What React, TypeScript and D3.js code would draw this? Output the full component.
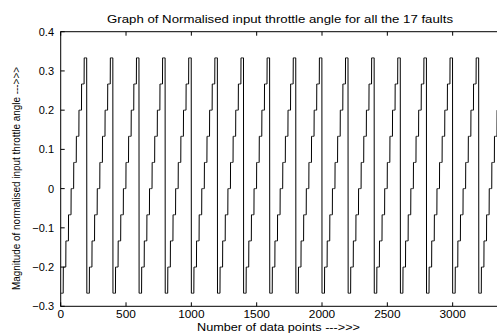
import React from "react";
import * as d3 from "d3";

// Normalised throttle-angle levels of each fault ramp
const throttleLevels = [-0.2667, -0.2, -0.1333, -0.0667, 0, 0.0667, 0.1333, 0.2, 0.2667, 0.3333];
// Number of data points spent on each level within one fault
const samplesPerLevel = [20, 20, 20, 20, 20, 20, 20, 20, 20, 20];
// The 17 faults
const faults = ["F1","F2","F3","F4","F5","F6","F7","F8","F9","F10","F11","F12","F13","F14","F15","F16","F17"];
const xTicks = [0, 500, 1000, 1500, 2000, 2500, 3000];
const yTicks = [-0.3, -0.2, -0.1, 0, 0.1, 0.2, 0.3, 0.4];
const xDomain = [0, 3350];
const yDomain = [-0.3, 0.4];

const W = 497, H = 336;
const m = { left: 60.7, top: 31.7, right: 498.4, bottom: 306.3 };

export default function App() {
  const x = d3.scaleLinear().domain(xDomain).range([m.left, m.right]);
  const y = d3.scaleLinear().domain(yDomain).range([m.bottom, m.top]);

  // build the series: each fault walks through the levels
  const data: [number, number][] = [];
  let idx = 0;
  faults.forEach(() => {
    throttleLevels.forEach((lv, li) => {
      for (let k = 0; k < samplesPerLevel[li]; k++) {
        data.push([idx, lv]);
        idx++;
      }
    });
  });

  const line = d3.line<[number, number]>().x(d => x(d[0])).y(d => y(d[1]));
  const font = "'Liberation Sans', Arial, sans-serif";
  const fmtY = (v: number) => (Math.abs(v) < 1e-9 ? "0" : d3.format(".1f")(v));

  return (
    <svg width={W} height={H} style={{ position: "absolute", left: 0, top: 0, background: "#fff" }}
      fontFamily={font}>
      <defs>
        <clipPath id="plotclip">
          <rect x={m.left} y={m.top} width={m.right - m.left} height={m.bottom - m.top} />
        </clipPath>
      </defs>
      <rect x={0} y={0} width={W} height={H} fill="#fff" />
      <path d={line(data) || ""} fill="none" stroke="#000" strokeWidth={1} clipPath="url(#plotclip)" />
      <rect x={m.left} y={m.top} width={m.right - m.left} height={m.bottom - m.top}
        fill="none" stroke="#000" strokeWidth={1} />
      {xTicks.map(t => (
        <g key={"x" + t}>
          <line x1={x(t)} x2={x(t)} y1={m.bottom} y2={m.bottom - 4} stroke="#000" />
          <line x1={x(t)} x2={x(t)} y1={m.top} y2={m.top + 4} stroke="#000" />
          <text x={x(t)} y={318} fontSize={11} textAnchor="middle"
            textLength={String(t).length * 6.6} lengthAdjust="spacingAndGlyphs">{t}</text>
        </g>
      ))}
      {yTicks.map(t => (
        <g key={"y" + t}>
          <line x1={m.left} x2={m.left + 4} y1={y(t)} y2={y(t)} stroke="#000" />
          <text x={54} y={y(t) + 4} fontSize={11} textAnchor="end">{fmtY(t)}</text>
        </g>
      ))}
      <text x={280} y={23} fontSize={11} textAnchor="middle" textLength={346} lengthAdjust="spacingAndGlyphs">
        Graph of Normalised input throttle angle for all the 17 faults
      </text>
      <text x={278.5} y={331} fontSize={11} textAnchor="middle" textLength={163} lengthAdjust="spacingAndGlyphs">
        Number of data points ---&gt;&gt;&gt;
      </text>
      <text transform="translate(20,178.5) rotate(-90)" fontSize={11} textAnchor="middle"
        textLength={223} lengthAdjust="spacingAndGlyphs">
        Magnitude of normalised input throttle angle ---&gt;&gt;&gt;
      </text>
    </svg>
  );
}
